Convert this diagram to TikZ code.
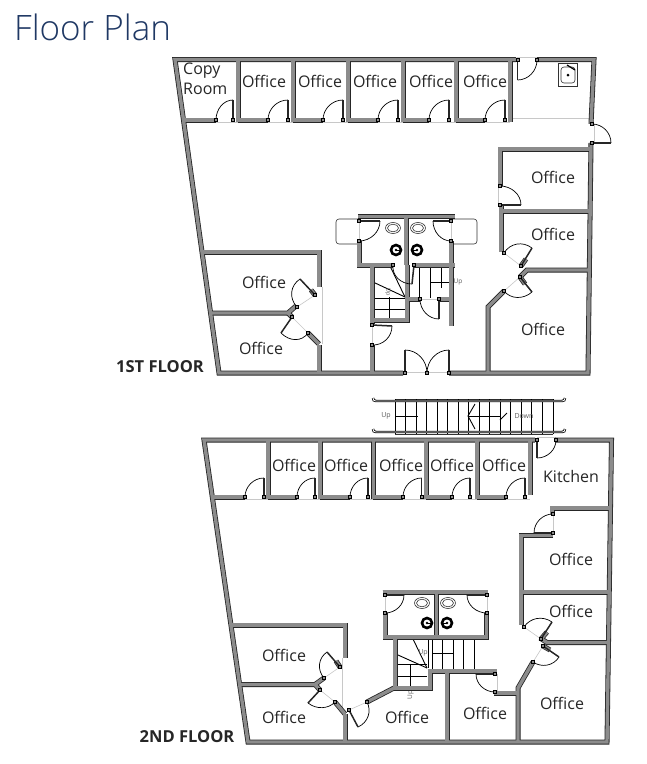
\documentclass[tikz,border=0pt]{standalone}
\usepackage{fontspec}
\setmainfont{Open Sans}
\newfontfamily\titlefont{Open Sans Light}
\usetikzlibrary{calc}
\definecolor{wallgray}{HTML}{8C8C8C}
\definecolor{titleblue}{HTML}{1F3864}
\definecolor{sillgray}{HTML}{C8C8C8}
\definecolor{inkgray}{HTML}{5A5A5A}
\tikzset{
wallout/.style={draw=black!85, line width=5pt, line join=miter, line cap=butt},
wallin/.style={draw=wallgray, line width=3.4pt, line join=miter, line cap=butt},
leafline/.style={draw=black!85, line width=1.5pt},
arcline/.style={draw=black, line width=0.7pt},
jambbox/.style={draw=black, fill=wallgray, line width=0.5pt},
sillline/.style={draw=sillgray, line width=0.6pt},
treadline/.style={draw=black, line width=0.9pt},
fixtureline/.style={draw=black!80, line width=0.6pt},
railline/.style={draw=black, line width=0.8pt, double=white, double distance=0.8pt},
roomlabel/.style={font=\fontsize{16}{19}\selectfont, text=black!85, inner sep=0pt},
floorlabel/.style={font=\fontsize{16.5}{19}\selectfont\bfseries, text=black!85, inner sep=0pt},
uplabel/.style={font=\fontsize{6.5}{8}\selectfont, text=inkgray, inner sep=0pt},
}
\newcommand*{\WallLines}[1]{% #1 = list of {paths}
\foreach \p in {#1} {
\draw[wallout] \p;
}%
\foreach \p in {#1} {
\draw[wallin] \p;
}%
}
\newcommand*{\JambBox}[1]{% #1 = x,y
\draw[jambbox] ($(#1)+(-1.3,-1.3)$) rectangle ($(#1)+(1.3,1.3)$);
}
\newcommand*{\SwingDoor}[3]{% #1 = hinge, #2 = leaf tip, #3 = other jamb
\draw[arcline] (#2) .. controls ($(#2)+0.55*(#3)-0.55*(#1)$) and ($(#3)+0.55*(#2)-0.55*(#1)$) .. (#3);
\draw[leafline] (#1) -- (#2);
\JambBox{#1}
\JambBox{#3}
}
\newcommand*{\RowDoors}[3]{% #1 = list of hinge x/jamb x, #2 = y of wall, #3 = y of leaf tip
\foreach \hx/\jx in {#1} {
\SwingDoor{\hx,#2}{\hx,#3}{\jx,#2}
}%
}
\newcommand*{\RoomLabels}[2]{% #1 = name prefix, #2 = list of n/x/y
\foreach \n/\x/\y in {#2} {
\node [roomlabel] (#1\n) at (\x,\y) {Office};
}%
}
\newcommand*{\PanBowl}[2]{% #1 = x, #2 = y
\draw[fixtureline] (#1,#2) ellipse [x radius=7.5, y radius=5.5];
\draw[fixtureline] (#1,#2) ellipse [x radius=5.5, y radius=3.8];
}
\newcommand*{\FloorDrain}[3]{% #1 = x, #2 = y, #3 = side of the tick
\draw[draw=black, line width=2.6pt] (#1,#2) circle [radius=5];
\fill (#1,#2) circle [radius=1.4];
\draw[line width=0.7pt] (#1,#2) -- ++(#3*3.8,0);
}

\begin{document}
\begin{tikzpicture}[x=1pt,y=-1pt]
\useasboundingbox (0,0) rectangle (647,764);
\fill[white] (0,0) rectangle (647,764);

\node [font=\titlefont\fontsize{35}{40}\selectfont, text=titleblue, inner sep=0pt, anchor=west] (title) at (14,27) {Floor Plan};

% first floor
\begin{scope}
\draw[sillline] (184,122) -- (510,122);
\draw[sillline] (510,118) -- (591,118);
\draw[sillline] (517,57) -- (537,57);
\draw[sillline] (594,124) -- (594,143);
\draw[sillline] (403,372) -- (449,372);
\draw[sillline] (498,186) -- (498,206);
\draw[sillline] (322,287) -- (322,344);
\draw[sillline] (315,295) -- (297,307);
\draw[sillline] (308,333) -- (292,317);
\draw[sillline] (504,253) -- (521,266);
\draw[sillline] (504,291) -- (520,277);
\draw[sillline] (372,325) -- (372,345);
\draw[sillline] (359,221) -- (359,241);
\draw[sillline] (451,221) -- (451,241);
\draw[sillline] (420,299) -- (439,299);

\foreach \x in {419,430} {
\draw[treadline] (\x,266) -- (\x,298);
}
\draw[treadline] (441,266) -- (441,288);
\draw[treadline] (430,282) -- (451,282);
\foreach \y in {298,309,320} {
\draw[treadline] (373,\y) -- (405,\y);
}
\draw[treadline] (373,282) -- (405,297);
\draw[treadline] (390,266) -- (405,297);
\draw[treadline] (389,297) -- (389,321);
\node [uplabel] (upa) at (458,282) {Up};
\node [uplabel, rotate=-90, font=\fontsize{5.5}{7}\selectfont] (upb) at (388,292) {Up};

\draw[fixtureline, rounded corners=3pt] (359,219) -- (336,219) -- (336,244) -- (359,244);
\draw[fixtureline, rounded corners=3pt] (451,219) -- (477,219) -- (477,244) -- (451,244);

\WallLines{
{(516,59.5) -- (175,59.5) -- (219,373) -- (403,373)},
{(449,373) -- (588,373) -- (591,143)},
{(591,124) -- (594,59.5) -- (537,59.5)},
{(238,59) -- (238,122)}, {(293,59) -- (293,122)}, {(348,59) -- (348,122)},
{(403,59) -- (403,122)}, {(456,59) -- (456,122)}, {(510,59) -- (510,122)},
{(184,120) -- (216,120)}, {(238,120) -- (268,120)}, {(293,120) -- (323,120)},
{(348,120) -- (378,120)}, {(403,120) -- (429,120)}, {(456,120) -- (485,120)},
{(500,186) -- (500,149) -- (591,149)},
{(501,206) -- (501,252)},
{(500,211) -- (590,211)},
{(520,277) -- (527,270) -- (590,270)},
{(504,291) -- (488,307) -- (488,373)},
{(358,216.5) -- (455,216.5)},
{(359,241) -- (359,265) -- (393,265)},
{(414,265) -- (455,265)},
{(451,241) -- (451,265)},
{(406,217) -- (406,265)},
{(372,265) -- (372,324)},
{(372,345) -- (372,373)},
{(407,265) -- (407,320) -- (372,320)},
{(407,299) -- (420,299)},
{(439,299) -- (449,299)},
{(451,265) -- (451,326)},
{(202,252) -- (319,252) -- (319,287)},
{(319,345) -- (319,373)},
{(210,313) -- (288,313) -- (296,306)},
{(288,313) -- (292,317)},
{(308,333) -- (319,344)},
{(315,295) -- (311,290)},
{(521,266) -- (526,259)},
{(520,277) -- (525,284)}
}
\RowDoors{233/216,288/268,343/323,398/378,449/429,505/485}{120}{100}
\SwingDoor{517.5,60}{517.5,80}{537,60}
\SwingDoor{592,143}{611,143}{592,124}
\SwingDoor{500,205}{521,205}{500,186}
\SwingDoor{521,266}{532,248}{504,253}
\SwingDoor{520,277}{532,292}{504,291}
\SwingDoor{315,295}{300,279}{297,307}
\SwingDoor{292,317}{281,333}{308,333}
\SwingDoor{372,325}{392,326}{372,345}
\SwingDoor{414,265}{412,284}{393,265}
\SwingDoor{439,299}{439,319}{420,299}
\SwingDoor{359,221}{380,221}{359,241}
\SwingDoor{451,221}{433,221}{451,241}
\SwingDoor{405,373}{405,350}{427,373}
\SwingDoor{449,373}{449,350}{427,373}
\PanBowl{393}{228}
\PanBowl{418}{228}
\FloorDrain{396}{250}{1}
\FloorDrain{417}{250}{-1}
\draw[fixtureline] (558,63) rectangle (577,86);
\draw[fixtureline, rounded corners=3pt] (561,67) rectangle (575,83);
\fill (568,75) circle [radius=1.5];
\draw[line width=1.2pt] (567,65) -- (575,70);

\node [roomlabel, align=left, anchor=north west, font=\fontsize{16}{20}\selectfont] (copyroom) at (183,63) {Copy\\Room};
\RoomLabels{ofa}{1/264/81,2/320/81,3/375/81,4/431/81,5/485/81,6/553/177,7/553/234,8/543/329,9/264/282,10/261/348}
\node [floorlabel] (firstfloor) at (160,367) {1ST FLOOR};
\end{scope}

% stairs between floors
\begin{scope}
\draw[fixtureline] (395,399) -- (553,399);
\draw[fixtureline] (395,434) -- (553,434);
\foreach \i in {0,...,15} {
\draw[treadline] (395+10.53*\i,399) -- (395+10.53*\i,434);
}
\foreach \y in {401,432} {
\draw[railline] (373,\y-3) .. controls (373,\y-1) and (374,\y) .. (376,\y) -- (562,\y) .. controls (564,\y) and (565,\y-1) .. (565,\y-3);
}
\draw[treadline] (395,416) -- (418,416);
\draw[treadline] (468,416) -- (501,416);
\draw[treadline] (475,404) -- (468,416) -- (475,429);
\draw[treadline] (507,413) -- (500,420);
\node [uplabel, font=\fontsize{7}{9}\selectfont] (upc) at (386,416) {Up};
\node [uplabel, font=\fontsize{7}{9}\selectfont] (downa) at (524,416) {Down};
\end{scope}

% second floor
\begin{scope}
\draw[sillline] (216,499) -- (530,499);
\draw[sillline] (537,437) -- (556,437);
\draw[sillline] (553,514) -- (553,533);
\draw[sillline] (497,674) -- (497,692);
\draw[sillline] (342,658) -- (342,714);
\draw[sillline] (340,667) -- (324,678);
\draw[sillline] (320,690) -- (335,702);
\draw[sillline] (349,710) -- (367,702);
\draw[sillline] (524,627) -- (541,639);
\draw[sillline] (543,646) -- (533,662);
\draw[sillline] (385,595) -- (385,613);
\draw[sillline] (487,595) -- (487,613);

\foreach \x in {432,442,453,463,474} {
\draw[treadline] (\x,638) -- (\x,670);
}
\draw[treadline] (432,653) -- (454,653);
\foreach \y in {664,676,686} {
\draw[treadline] (397,\y) -- (427,\y);
}
\draw[treadline] (413,639) -- (427,668);
\draw[treadline] (398,655) -- (427,668);
\draw[treadline] (428,639) -- (428,668);
\draw[treadline] (410,664) -- (410,687);
\node [uplabel, font=\fontsize{7}{9}\selectfont] (upd) at (423,653) {Up};
\node [uplabel, rotate=90] (upe) at (410.5,695) {Up};

\WallLines{
{(535,440) -- (204,440) -- (248,742) -- (607,742) -- (611.5,440) -- (555,440)},
{(268,440) -- (268,499)}, {(320,440) -- (320,499)}, {(373.5,440) -- (373.5,499)},
{(426,440) -- (426,499)}, {(477,440) -- (477,499)}, {(530,440) -- (530,495)},
{(213,497) -- (245,497)}, {(268,497) -- (297,497)}, {(320,497) -- (350,497)},
{(373,497) -- (403,497)}, {(426,497) -- (452,497)}, {(477,497) -- (506,497)},
{(552,514) -- (552,508) -- (610,508)},
{(553,535.5) -- (521,535.5) -- (521,625)},
{(521,592) -- (608,592)},
{(540,638) -- (547,642.5) -- (607,642.5)},
{(533,662) -- (518,688) -- (518,742)},
{(518,693) -- (494,693)},
{(382.5,592) -- (488,592)},
{(385,613) -- (385,637) -- (486.5,637) -- (486.5,613)},
{(436.7,592) -- (436.7,637)},
{(395,637) -- (395,688) -- (430,688) -- (430,671)},
{(428,671) -- (497,671)},
{(447,671) -- (447,742)},
{(394,688) -- (367,702)},
{(345,714) -- (345,742)},
{(231,625) -- (345,625) -- (345,658)},
{(240,684.5) -- (315,684.5) -- (324,678)},
{(315,684.5) -- (320,690)},
{(335,702) -- (345,714)},
{(340,667) -- (336,661)},
{(541,639) -- (547,632)},
{(543,646) -- (550,650)}
}
\RowDoors{264/245,315/297,368/350,421.7/403,470/452,525/506}{497}{478}
\SwingDoor{537,440}{537,458}{556,440}
\SwingDoor{553,533}{534,533}{553,514}
\SwingDoor{541,639}{552,622}{524,627}
\SwingDoor{543,646}{559,657}{533,662}
\SwingDoor{495,674}{476,674}{495,692}
\SwingDoor{385,595}{404,595}{385,613}
\SwingDoor{487,595}{467,595}{487,613}
\SwingDoor{340,667}{327,652}{324,678}
\SwingDoor{320,690}{308,703}{335,702}
\SwingDoor{349,710}{358,727}{367,702}
\PanBowl{422}{603}
\PanBowl{448}{603}
\FloorDrain{427}{623}{1}
\FloorDrain{447}{623}{-1}

\node [roomlabel] (kitchen) at (571,476) {Kitchen};
\RoomLabels{ofb}{1/294/465,2/346/465,3/401/465,4/452/465,5/504/465,6/571/559,7/571/611,8/284/655,9/284/717,10/407/717,11/485/713,12/562/703}
\node [floorlabel] (secondfloor) at (187,737) {2ND FLOOR};
\end{scope}

\end{tikzpicture}
\end{document}
